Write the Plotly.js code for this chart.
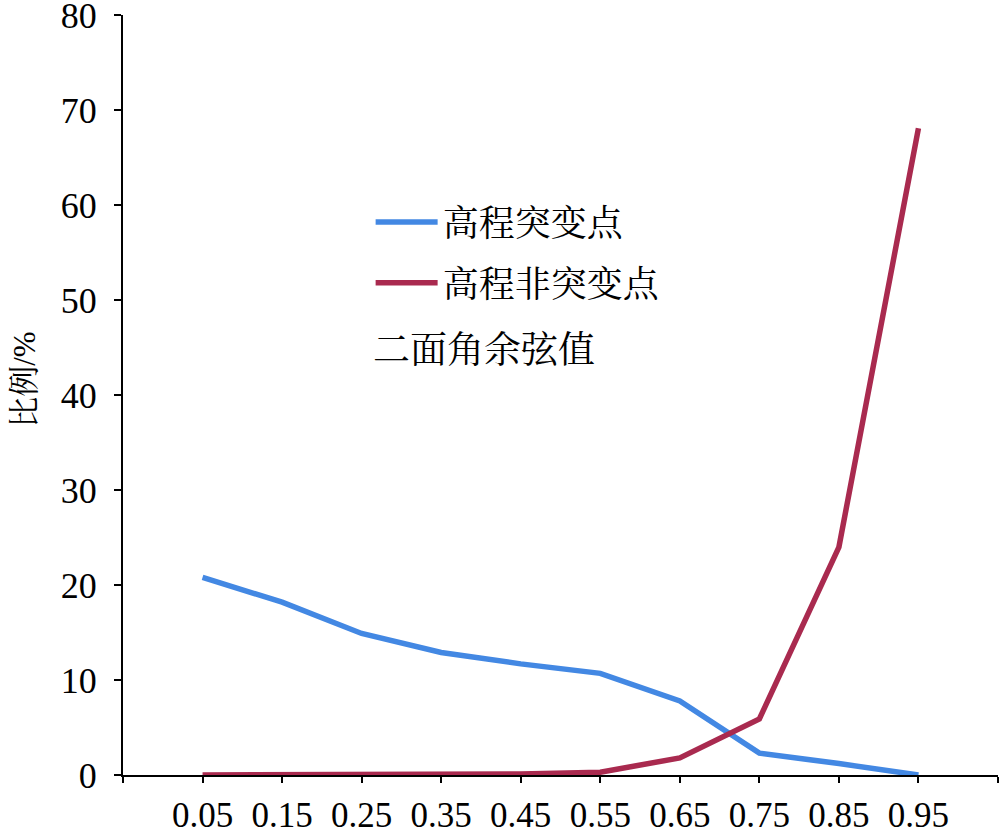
<!DOCTYPE html>
<html>
<head>
<meta charset="utf-8">
<script src="https://cdn.plot.ly/plotly-3.0.1.min.js"></script>
<style>html,body{margin:0;padding:0;background:#fff;}#chart{width:1000px;height:831px;}</style>
</head>
<body>
<div id="chart"></div>
<script>
const cosValues = [0.05, 0.15, 0.25, 0.35, 0.45, 0.55, 0.65, 0.75, 0.85, 0.95];
const mutationPct = [20.8, 18.2, 14.9, 12.9, 11.7, 10.7, 7.8, 2.3, 1.2, 0.0];
const nonMutationPct = [0, 0, 0, 0, 0.1, 0.3, 1.8, 5.9, 24.0, 68.1];
const xTickVals = [-0.05, 0.05, 0.15, 0.25, 0.35, 0.45, 0.55, 0.65, 0.75, 0.85, 0.95, 1.05];
const xTickText = ['', '0.05', '0.15', '0.25', '0.35', '0.45', '0.55', '0.65', '0.75', '0.85', '0.95', ''];
const yTickVals = [0, 10, 20, 30, 40, 50, 60, 70, 80];
const yTickText = ['0', '10', '20', '30', '40', '50', '60', '70', '80'];
const seriesNames = ['高程突变点', '高程非突变点'];
const xTitle = '二面角余弦值';
const yTitle = '比例/%';

const FONT = 'Liberation Serif, Times New Roman, Noto Serif CJK SC, Noto Sans CJK SC, serif';

const traces = [
  {x: cosValues, y: mutationPct, name: seriesNames[0], mode: 'lines', legendgroup: 'a',
   line: {color: '#4388e3', width: 5.5}},
  {x: cosValues, y: nonMutationPct, name: seriesNames[1], mode: 'lines', legendgroup: 'b',
   line: {color: '#a92a4f', width: 5.5}}
];

const layout = {
  width: 1000, height: 831,
  margin: {l: 123, r: 2, t: 15, b: 56},
  paper_bgcolor: '#fff', plot_bgcolor: '#fff',
  font: {family: FONT, color: '#000', size: 35},
  showlegend: true,
  legend: {x: 0.283, y: 0.767, xanchor: 'left', yanchor: 'top', bgcolor: 'rgba(0,0,0,0)',
           font: {size: 36, family: FONT}, traceorder: 'grouped', tracegroupgap: 11, itemwidth: 62},
  xaxis: {range: [-0.05, 1.05], tickmode: 'array', tickvals: xTickVals, ticktext: xTickText,
          showline: true, linecolor: '#000', linewidth: 2, ticks: 'outside', ticklen: 6, tickwidth: 2,
          tickcolor: '#000', showgrid: false, zeroline: false, ticklabelstandoff: 2,
          ticklabeloverflow: 'allow', tickfont: {size: 35, family: FONT}},
  yaxis: {range: [0, 80.02], tickmode: 'array', tickvals: yTickVals, ticktext: yTickText,
          showline: true, linecolor: '#000', linewidth: 2,
          ticks: 'outside', ticklen: 7, tickwidth: 2, tickcolor: '#000', showgrid: false, zeroline: false,
          ticklabelstandoff: 10, ticklabeloverflow: 'allow', tickfont: {size: 36, family: FONT}},
  annotations: [
    {xref: 'paper', yref: 'paper', x: 0.2835, y: 0.558, xanchor: 'left', yanchor: 'middle',
     text: xTitle, showarrow: false, font: {size: 37, family: FONT}},
    {xref: 'paper', yref: 'paper', x: -0.112, y: 0.52, xanchor: 'center', yanchor: 'middle',
     textangle: -90, text: yTitle, showarrow: false, font: {size: 31, family: FONT}}
  ]
};

Plotly.newPlot('chart', traces, layout, {displayModeBar: false});
</script>
</body>
</html>
